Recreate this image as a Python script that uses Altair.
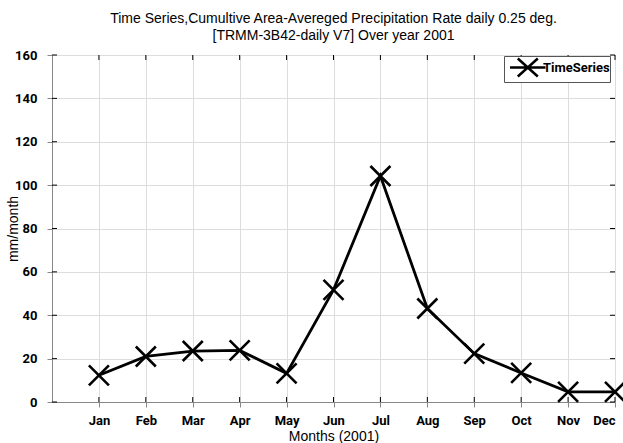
import altair as alt
import pandas as pd

# Monthly cumulative area-averaged precipitation (mm/month), 2001
month_num = [1, 2, 3, 4, 5, 6, 7, 8, 9, 10, 11, 12]
month_names = ["Jan", "Feb", "Mar", "Apr", "May", "Jun",
               "Jul", "Aug", "Sep", "Oct", "Nov", "Dec"]
precip = [12.3, 21.0, 23.5, 23.8, 13.2, 51.7, 104.2, 43.1, 22.3, 13.4, 4.7, 4.7]
y_ticks = [0, 20, 40, 60, 80, 100, 120, 140, 160]

W, H = 563, 347
FONT = "Liberation Sans"
TICK_FONT = "Roboto, Liberation Sans"

df = pd.DataFrame({"month": month_num, "name": month_names,
                   "value": precip, "series": "TimeSeries"})
xt = pd.DataFrame({"month": month_num})
yt = pd.DataFrame({"v": y_ticks})

label_expr = "[" + ",".join(f"'{m}'" for m in month_names) + "][datum.value - 1]"

x_scale = alt.Scale(domain=[0, 12], nice=False, zero=False)
y_scale = alt.Scale(domain=[0, 160], nice=False)

tick_label_style = dict(labelFont=TICK_FONT, labelFontSize=13,
                        labelFontWeight="bold", labelColor="black")

x_enc = alt.X("month:Q", scale=x_scale,
              axis=alt.Axis(values=month_num, labelExpr=label_expr,
                            title="Months (2001)", titleFont=FONT,
                            titleFontSize=14, titleFontWeight="normal",
                            titleY=38, titleBaseline="alphabetic",
                            labelPadding=7, **tick_label_style))
y_enc = alt.Y("value:Q", scale=y_scale,
              axis=alt.Axis(values=y_ticks, title="mm/month", titleFont=FONT,
                            titleFontSize=14, titleFontWeight="normal",
                            titleX=-39, titleY=H / 2, titleBaseline="middle",
                            labelPadding=10, **tick_label_style))

x_path = "M-1,-1L1,1M-1,1L1,-1"
# legend key: a short line with an X marker on it
legend_sym = "M-1.05,0L2.5,0M-0.27,-0.9L1.73,0.9M-0.27,0.9L1.73,-0.9"

color_enc = alt.Color(
    "series:N",
    scale=alt.Scale(domain=["TimeSeries"], range=["black"]),
    legend=alt.Legend(title=None, orient="none", legendX=452, legendY=1,
                      symbolType=legend_sym, symbolSize=400,
                      symbolStrokeWidth=2.5, symbolStrokeColor="black",
                      symbolFillColor="transparent", symbolOffset=5,
                      labelFont=TICK_FONT, labelFontSize=13,
                      labelFontWeight="bold",
                      labelColor="black", labelOffset=11,
                      strokeColor="#555", fillColor="white",
                      padding=0, rowPadding=0),
)

line = alt.Chart(df).mark_line(color="black", strokeWidth=2.8).encode(
    x=x_enc, y=y_enc, color=color_enc)

points = alt.Chart(df).mark_point(shape=x_path, size=400, strokeWidth=2.6,
                                  filled=False, opacity=1).encode(
    x=alt.X("month:Q", scale=x_scale),
    y=alt.Y("value:Q", scale=y_scale),
    color=color_enc)

# inward tick marks on all four sides
tick_b = alt.Chart(xt).mark_rule(color="black", strokeWidth=1).encode(
    x=alt.X("month:Q", scale=x_scale), y=alt.value(H), y2=alt.value(H - 5))
tick_t = alt.Chart(xt).mark_rule(color="black", strokeWidth=1).encode(
    x=alt.X("month:Q", scale=x_scale), y=alt.value(0), y2=alt.value(5))
tick_l = alt.Chart(yt).mark_rule(color="black", strokeWidth=1).encode(
    y=alt.Y("v:Q", scale=y_scale), x=alt.value(0), x2=alt.value(5))
tick_r = alt.Chart(yt).mark_rule(color="black", strokeWidth=1).encode(
    y=alt.Y("v:Q", scale=y_scale), x=alt.value(W), x2=alt.value(W - 5))

chart = alt.layer(line, points, tick_b, tick_t, tick_l, tick_r).properties(
    width=W, height=H,
    autosize=alt.AutoSizeParams(type="none"),
    padding={"left": 52, "top": 55, "right": 8, "bottom": 41},
    title=alt.TitleParams(
        text=["Time Series,Cumultive Area-Avereged Precipitation Rate daily 0.25 deg.",
              "[TRMM-3B42-daily V7] Over year 2001"],
        font=FONT, fontSize=14, fontWeight="normal", color="black",
        anchor="middle", offset=6, lineHeight=17),
).configure_view(stroke="black", strokeWidth=1.2).configure_axis(
    domainColor="black", domainWidth=1.2, ticks=False,
    grid=True, gridColor="#000", gridOpacity=1, gridDash=[1, 3], gridWidth=1,
    titleColor="black",
).configure(background="white")

chart.save("out.html", embed_options={"renderer": "svg", "actions": False})
